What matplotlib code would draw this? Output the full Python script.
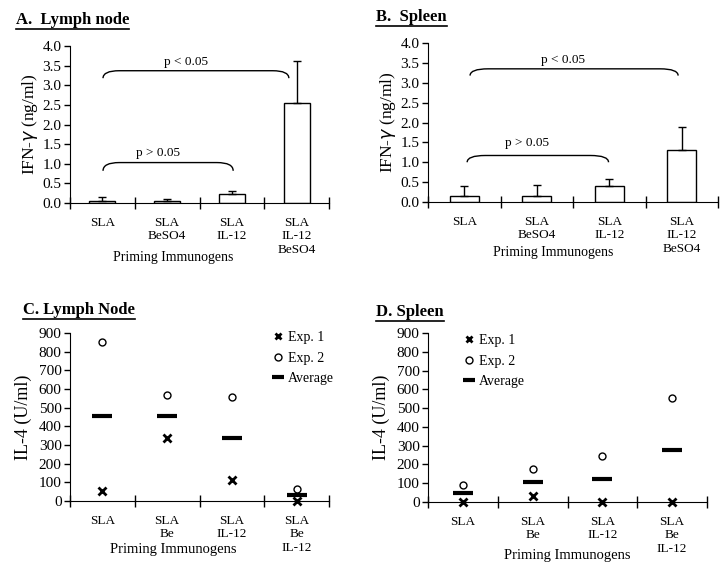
import numpy as np
import matplotlib
matplotlib.use("Agg")
import matplotlib.pyplot as plt
from matplotlib.path import Path
from matplotlib.patches import PathPatch
from matplotlib.lines import Line2D

plt.rcParams["font.family"] = ["Liberation Serif", "DejaVu Serif"]

# ---- data ----
ifn_labels = ["SLA", "SLA\nBeSO4", "SLA\nIL-12", "SLA\nIL-12\nBeSO4"]
ifn_ln = [0.05, 0.04, 0.24, 2.54]
ifn_ln_err = [0.10, 0.05, 0.07, 1.08]
ifn_sp = [0.14, 0.15, 0.40, 1.30]
ifn_sp_err = [0.26, 0.29, 0.19, 0.59]

il4_labels = ["SLA", "SLA\nBe", "SLA\nIL-12", "SLA\nBe\nIL-12"]
il4_ln_exp1 = [52, 339, 114, 0]
il4_ln_exp2 = [852, 566, 557, 62]
il4_ln_avg = [455, 455, 339, 30]
il4_sp_exp1 = [0, 32, 0, 0]
il4_sp_exp2 = [90, 178, 245, 556]
il4_sp_avg = [48, 107, 122, 277]

W, H = 723, 569
fig = plt.figure(figsize=(W / 100, H / 100), dpi=100)


def px_axes(l, t, r, b):
    return fig.add_axes([l / W, 1 - b / H, (r - l) / W, (b - t) / H])


def style(ax, labels, ymax, ystep, fmt):
    ax.set_xlim(0, 4)
    ax.set_ylim(0, ymax)
    for s in ("top", "right"):
        ax.spines[s].set_visible(False)
    ax.set_xticks([0, 1, 2, 3, 4])
    ax.set_xticklabels([])
    ax.tick_params(axis="x", which="major", direction="inout", length=8, width=1)
    ax.set_xticks([0.5, 1.5, 2.5, 3.5], minor=True)
    ax.set_xticklabels(labels, minor=True, fontsize=9.5, linespacing=1.15, va="top")
    ax.tick_params(axis="x", which="minor", length=0, pad=10)
    yt = np.arange(0, ymax + ystep / 2, ystep)
    ax.set_yticks(yt)
    ax.set_yticklabels([fmt.format(v) for v in yt], fontsize=11)
    ax.tick_params(axis="y", direction="out", length=4, width=1, pad=2)


def bracket(ax, x0, x1, ytop, ylow, dx, text, ytext):
    verts = [(x0, ylow), (x0, ytop), (x0 + dx, ytop), (x1 - dx, ytop),
             (x1, ytop), (x1, ylow)]
    codes = [Path.MOVETO, Path.CURVE3, Path.CURVE3, Path.LINETO,
             Path.CURVE3, Path.CURVE3]
    ax.add_patch(PathPatch(Path(verts, codes), fill=False, lw=1, clip_on=False))
    ax.text((x0 + x1) / 2 - 0.15, ytext, text, ha="center", va="center", fontsize=9.5)


xs = np.arange(4) + 0.5

# ---- A ----
axA = px_axes(70, 46, 329, 203)
style(axA, ifn_labels, 4.0, 0.5, "{:.1f}")
axA.bar(xs, ifn_ln, width=0.4, color="white", edgecolor="black", lw=1)
axA.errorbar(xs, ifn_ln, yerr=[np.zeros(4), ifn_ln_err], fmt="none",
             ecolor="black", elinewidth=1, capsize=3, capthick=1)
axA.set_ylabel("IFN-$\\gamma$ (ng/ml)", fontsize=12.5, labelpad=2)
axA.text(0.40, -0.345, "Priming Immunogens", transform=axA.transAxes,
         ha="center", va="center", fontsize=10)
bracket(axA, 0.51, 3.38, 3.37, 3.18, 0.25, "p < 0.05", 3.6)
bracket(axA, 0.51, 2.52, 1.03, 0.82, 0.25, "p > 0.05", 1.28)

# ---- B ----
axB = px_axes(428, 43, 718, 202)
style(axB, ifn_labels, 4.0, 0.5, "{:.1f}")
axB.bar(xs, ifn_sp, width=0.4, color="white", edgecolor="black", lw=1)
axB.errorbar(xs, ifn_sp, yerr=[np.zeros(4), ifn_sp_err], fmt="none",
             ecolor="black", elinewidth=1, capsize=3, capthick=1)
axB.set_ylabel("IFN-$\\gamma$ (ng/ml)", fontsize=12.5, labelpad=2)
axB.text(0.43, -0.315, "Priming Immunogens", transform=axB.transAxes,
         ha="center", va="center", fontsize=10)
bracket(axB, 0.58, 3.45, 3.35, 3.18, 0.25, "p < 0.05", 3.56)
bracket(axB, 0.54, 2.49, 1.17, 1.0, 0.25, "p > 0.05", 1.48)


def il4(ax, e1, e2, avg, leg_xy):
    style(ax, il4_labels, 900, 100, "{:.0f}")
    ax.plot(xs, e1, ls="none", marker="x", ms=6, mew=2, color="black",
            clip_on=False, zorder=5)
    ax.plot(xs, e2, ls="none", marker="o", ms=5, mew=1, mfc="white",
            mec="black", clip_on=False, zorder=5)
    ax.plot(xs, avg, ls="none", marker="_", ms=14, mew=3, color="black",
            clip_on=False, zorder=4)
    h = [Line2D([], [], ls="none", marker="x", ms=5, mew=2, color="black"),
         Line2D([], [], ls="none", marker="o", ms=5, mew=1, mfc="white", mec="black"),
         Line2D([], [], ls="none", marker="_", ms=9, mew=3, color="black")]
    ax.legend(h, ["Exp. 1", "Exp. 2", "Average"], loc="upper left",
              bbox_to_anchor=(leg_xy[0] / W, 1 - leg_xy[1] / H),
              bbox_transform=fig.transFigure, frameon=False, fontsize=10,
              handlelength=0.8, handletextpad=0.35, labelspacing=0.55,
              borderpad=0, borderaxespad=0)
    ax.set_ylabel("IL-4 (U/ml)", fontsize=13, labelpad=5)


# ---- C ----
axC = px_axes(70, 333, 329, 501)
il4(axC, il4_ln_exp1, il4_ln_exp2, il4_ln_avg, (272, 331))
axC.text(0.40, -0.29, "Priming Immunogens", transform=axC.transAxes,
         ha="center", va="center", fontsize=10.5)

# ---- D ----
axD = px_axes(428, 333, 707, 502)
il4(axD, il4_sp_exp1, il4_sp_exp2, il4_sp_avg, (463, 334))
axD.text(0.50, -0.315, "Priming Immunogens", transform=axD.transAxes,
         ha="center", va="center", fontsize=10.5)

# ---- panel titles (bold, underlined) ----
titles = [("A.  Lymph node", 16, 20), ("B.  Spleen", 376, 17),
          ("C. Lymph Node", 23, 310), ("D. Spleen", 376, 312)]
fig.canvas.draw()
r = fig.canvas.get_renderer()
for txt, x, y in titles:
    t = fig.text(x / W, 1 - y / H, txt, fontsize=12, fontweight="bold",
                 ha="left", va="center")
    bb = t.get_window_extent(renderer=r)
    yl = bb.y0 - 1
    fig.add_artist(Line2D([bb.x0 / W, bb.x1 / W], [yl / H, yl / H],
                          color="black", lw=1.2, transform=fig.transFigure))

fig.savefig("out.png", dpi=100)
